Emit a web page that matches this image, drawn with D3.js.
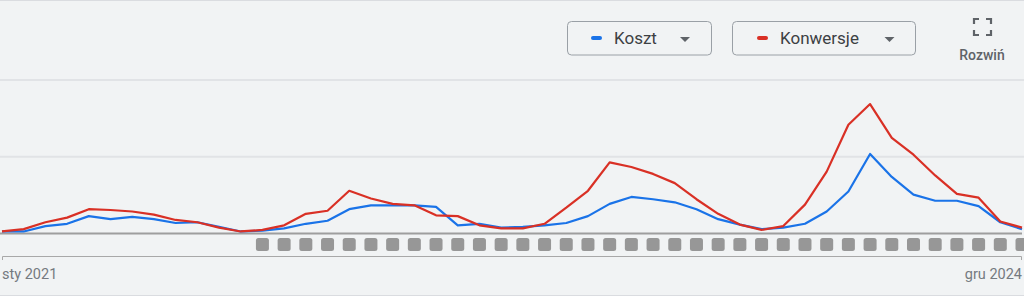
<!DOCTYPE html>
<html>
<head>
<meta charset="utf-8">
<script src="https://cdn.jsdelivr.net/npm/d3@7"></script>
<style>
  html, body { margin: 0; padding: 0; background: #f1f3f4; }
  svg { display: block; font-family: Roboto, "Noto Sans", sans-serif; }
</style>
</head>
<body>
<div id="chart"></div>
<script>
// months sty 2021 .. gru 2024
const months = d3.timeMonth.range(new Date(2021, 0, 1), new Date(2025, 0, 1));

// Koszt (blue) and Konwersje (red), relative units (grid lines at 100 and 200)
const koszt = [2, 2, 9, 12, 22, 18, 21, 18, 13, 14, 8, 2,
               3, 6, 12, 16, 31, 36, 36, 36, 34, 10, 12, 7,
               8, 10, 13, 22, 38, 47, 44, 40, 31, 18, 11, 5,
               7, 12, 28, 54, 103, 73, 50, 42, 42, 35, 14, 5];
const konwersje = [2, 5, 14, 20, 31, 30, 28, 24, 17, 14, 7, 2,
                   4, 10, 25, 29, 55, 45, 38, 36, 23, 22, 10, 6,
                   6, 12, 33, 55, 92, 86, 77, 65, 44, 25, 11, 4,
                   9, 37, 80, 141, 168, 124, 102, 75, 51, 46, 15, 7];

// grey note markers, shown from sty 2022 onwards
const markerMonths = months.slice(12);

const gridTicks = [100, 200];
const axisLabels = ["sty 2021", "gru 2024"];

const legendItems = [
  {name: "Koszt", color: "#1a73e8"},
  {name: "Konwersje", color: "#d93025"}
];

const W = 1024, H = 296;
const svg = d3.select("#chart").append("svg")
  .attr("width", W)
  .attr("height", H);

svg.append("rect").attr("width", W).attr("height", H).attr("fill", "#f1f3f4");
// top and bottom borders
svg.append("line").attr("x1", 0).attr("x2", W).attr("y1", 0.5).attr("y2", 0.5)
  .attr("stroke", "#dadce0");
svg.append("line").attr("x1", 0).attr("x2", W).attr("y1", 295.5).attr("y2", 295.5)
  .attr("stroke", "#dadce0");

const fmt = d3.timeFormat("%Y-%m");
const keys = months.map(fmt);

const x = d3.scalePoint()
  .domain(keys)
  .range([2, 1022]);

const y = d3.scaleLinear()
  .domain([0, 200])
  .range([233, 79.5]);

// grid lines
const grid = svg.append("g")
  .call(d3.axisLeft(y).tickValues(gridTicks).tickSize(-W).tickFormat(""));
grid.select(".domain").remove();
grid.selectAll(".tick line")
  .attr("stroke", "#e1e3e6")
  .attr("stroke-width", 2);

// baseline
svg.append("line")
  .attr("x1", 0).attr("x2", 1022)
  .attr("y1", y(0) + 0.5).attr("y2", y(0) + 0.5)
  .attr("stroke", "#9e9e9e")
  .attr("stroke-width", 2);

// lines
const line = d3.line()
  .x((d, i) => x(keys[i]))
  .y(d => y(d));

[[koszt, legendItems[0].color], [konwersje, legendItems[1].color]].forEach(function(s) {
  svg.append("path")
    .datum(s[0])
    .attr("d", line)
    .attr("fill", "none")
    .attr("stroke", s[1])
    .attr("stroke-width", 2.2)
    .attr("stroke-linejoin", "round");
});

// note markers
svg.append("g").selectAll("rect")
  .data(markerMonths)
  .join("rect")
  .attr("x", d => x(fmt(d)) - 6.5)
  .attr("y", 238)
  .attr("width", 13)
  .attr("height", 13)
  .attr("rx", 2.5)
  .attr("fill", "#979797");

// bottom time axis (bracket)
svg.append("path")
  .attr("d", "M2.5,260 V256.5 H1021.5 V260")
  .attr("fill", "none")
  .attr("stroke", "#a8a8a8")
  .attr("stroke-width", 1);

svg.append("text")
  .attr("x", 2).attr("y", 279)
  .attr("font-size", 14.5)
  .attr("fill", "#757a80")
  .text(axisLabels[0]);
svg.append("text")
  .attr("x", 1022).attr("y", 279)
  .attr("text-anchor", "end")
  .attr("font-size", 14.5)
  .attr("fill", "#757a80")
  .text(axisLabels[1]);

// legend dropdown buttons
const buttons = [
  {x: 567, w: 144, dash: 591, text: 614, tri: 685},
  {x: 732, w: 183, dash: 757, text: 780, tri: 889.5}
];
buttons.forEach(function(b, i) {
  const g = svg.append("g");
  g.append("rect")
    .attr("x", b.x + 0.5).attr("y", 21.5)
    .attr("width", b.w).attr("height", 33.5)
    .attr("rx", 4)
    .attr("fill", "#f1f3f4")
    .attr("stroke", "#9aa0a6");
  g.append("rect")
    .attr("x", b.dash).attr("y", 36)
    .attr("width", 11).attr("height", 4)
    .attr("rx", 2)
    .attr("fill", legendItems[i].color);
  g.append("text")
    .attr("x", b.text).attr("y", 44)
    .attr("font-size", 17)
    .attr("fill", "#3c4043")
    .text(legendItems[i].name);
  g.append("path")
    .attr("d", `M${b.tri - 5},37 L${b.tri + 5},37 L${b.tri},42 Z`)
    .attr("fill", "#5f6368");
});

// expand icon
const ic = svg.append("g").attr("fill", "none").attr("stroke", "#5f6368").attr("stroke-width", 2.2);
ic.append("path").attr("d", "M974,24 V19 H979");
ic.append("path").attr("d", "M986,19 H991 V24");
ic.append("path").attr("d", "M974,30 V35 H979");
ic.append("path").attr("d", "M986,35 H991 V30");
svg.append("text")
  .attr("x", 982).attr("y", 60)
  .attr("text-anchor", "middle")
  .attr("font-size", 14)
  .attr("font-weight", 500)
  .attr("fill", "#5f6368")
  .text("Rozwiń");
</script>
</body>
</html>
